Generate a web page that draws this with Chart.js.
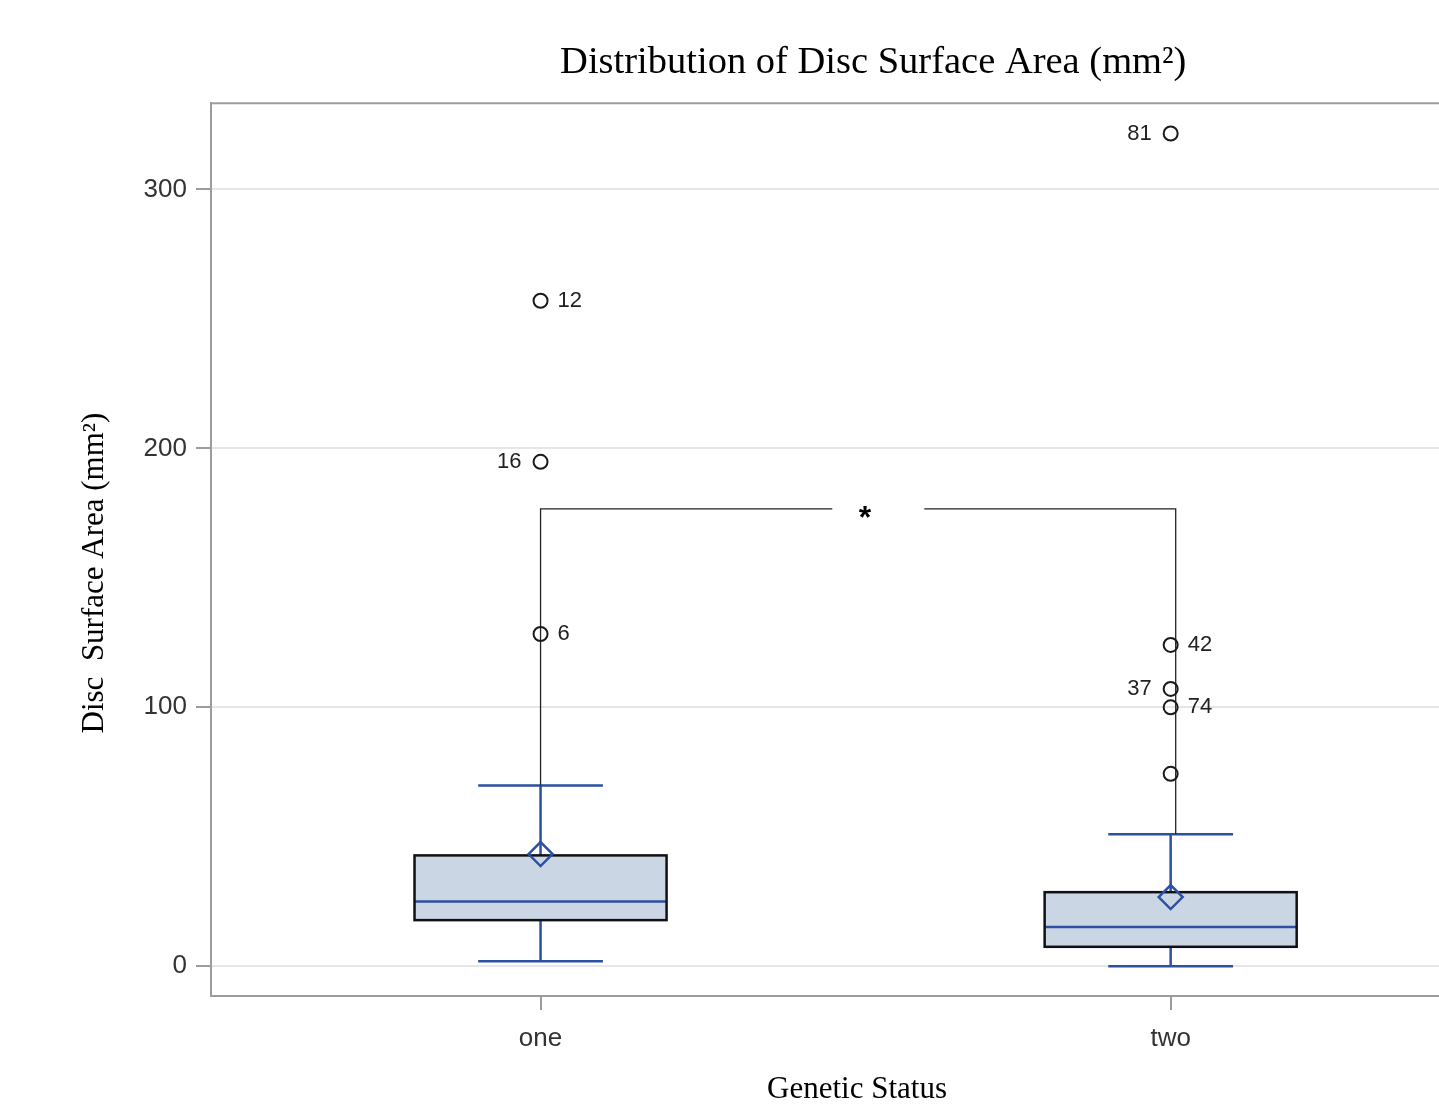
<!DOCTYPE html>
<html>
<head>
<title>Distribution of Disc Surface Area</title>
<script src="https://cdn.jsdelivr.net/npm/chart.js"></script>
<style>
    html, body { margin: 0; padding: 0; background: #fff; overflow: hidden; }
    .wrap { width: 1439px; height: 1116px; overflow: hidden; }
</style>
</head>
<body>
<div class="wrap"><canvas id="boxChart" width="1550" height="1116"></canvas></div>
<script>
// box plot summary per group
const groups = ['one', 'two'];
const whiskerLow = [1.9, 0];
const q1 = [17.8, 7.5];
const median = [25.0, 15.1];
const q3 = [42.8, 28.6];
const whiskerHigh = [69.8, 51.0];
const means = [43.3, 26.7];

// outliers (group index, value, id label)
const outlierGroup = [0, 0, 0, 1, 1, 1, 1, 1];
const outlierValues = [128.3, 194.8, 257.0, 74.3, 100.0, 107.1, 124.1, 321.6];
const outlierIds = ['6', '16', '12', '', '74', '37', '42', '81'];
const leftLabelled = ['16', '37', '81'];

const yTicks = [0, 100, 200, 300];
const bracketValue = 176.6;

const blue = '#2c50a2';
const sans = '"Liberation Sans", Arial, sans-serif';
const serif = '"Liberation Serif", "Times New Roman", serif';

const boxPlot = {
    id: 'boxPlot',
    beforeDatasetsDraw(chart) {
        const { ctx, chartArea, scales: { x, y } } = chart;
        ctx.save();

        // top frame line (right edge falls off the page)
        ctx.strokeStyle = '#9c9c9c';
        ctx.lineWidth = 2;
        ctx.beginPath();
        ctx.moveTo(chartArea.left, chartArea.top);
        ctx.lineTo(chartArea.right, chartArea.top);
        ctx.stroke();

        groups.forEach((g, i) => {
            const cx = x.getPixelForValue(i);
            const half = x.getPixelForValue(i + 0.2) - cx;
            const cap = x.getPixelForValue(i + 0.099) - cx;
            const yLo = y.getPixelForValue(whiskerLow[i]);
            const yQ1 = y.getPixelForValue(q1[i]);
            const yMed = y.getPixelForValue(median[i]);
            const yQ3 = y.getPixelForValue(q3[i]);
            const yHi = y.getPixelForValue(whiskerHigh[i]);

            ctx.strokeStyle = blue;
            ctx.lineWidth = 2.5;
            ctx.beginPath();
            ctx.moveTo(cx, yQ3); ctx.lineTo(cx, yHi);
            ctx.moveTo(cx, yQ1); ctx.lineTo(cx, yLo);
            ctx.moveTo(cx - cap, yHi); ctx.lineTo(cx + cap, yHi);
            ctx.moveTo(cx - cap, yLo); ctx.lineTo(cx + cap, yLo);
            ctx.stroke();

            ctx.fillStyle = '#cbd6e5';
            ctx.fillRect(cx - half, yQ3, half * 2, yQ1 - yQ3);

            ctx.beginPath();
            ctx.moveTo(cx - half, yMed); ctx.lineTo(cx + half, yMed);
            ctx.stroke();

            ctx.strokeStyle = '#111';
            ctx.lineWidth = 2.5;
            ctx.strokeRect(cx - half, yQ3, half * 2, yQ1 - yQ3);
        });

        // significance bracket
        const bx1 = x.getPixelForValue(0);
        const bx2 = x.getPixelForValue(1.008);
        const by = y.getPixelForValue(bracketValue);
        const gapL = x.getPixelForValue(0.463);
        const gapR = x.getPixelForValue(0.609);
        ctx.strokeStyle = '#222';
        ctx.lineWidth = 1.3;
        ctx.beginPath();
        ctx.moveTo(bx1, y.getPixelForValue(whiskerHigh[0]));
        ctx.lineTo(bx1, by);
        ctx.lineTo(gapL, by);
        ctx.moveTo(gapR, by);
        ctx.lineTo(bx2, by);
        ctx.lineTo(bx2, y.getPixelForValue(whiskerHigh[1]));
        ctx.stroke();

        ctx.fillStyle = '#000';
        ctx.font = 'bold 32px ' + sans;
        ctx.textAlign = 'center';
        ctx.textBaseline = 'middle';
        ctx.fillText('*', x.getPixelForValue(0.515), by + 10);
        ctx.restore();
    },
    afterDatasetsDraw(chart) {
        const { ctx, scales: { x, y } } = chart;
        ctx.save();
        ctx.fillStyle = '#222';
        ctx.font = '22px ' + sans;
        ctx.textBaseline = 'middle';
        outlierValues.forEach((v, i) => {
            const id = outlierIds[i];
            if (!id) return;
            const px = x.getPixelForValue(outlierGroup[i]);
            const py = y.getPixelForValue(v);
            if (leftLabelled.includes(id)) {
                ctx.textAlign = 'right';
                ctx.fillText(id, px - 19, py);
            } else {
                ctx.textAlign = 'left';
                ctx.fillText(id, px + 17, py);
            }
        });
        ctx.restore();
    },
    afterDraw(chart) {
        // axis titles, placed as in the original figure
        const { ctx } = chart;
        ctx.save();
        ctx.fillStyle = '#000';
        ctx.font = '31px ' + serif;
        ctx.textAlign = 'center';
        ctx.textBaseline = 'middle';
        ctx.fillText('Genetic Status', 857, 1090);
        ctx.translate(95, 573);
        ctx.rotate(-Math.PI / 2);
        ctx.fillText('Disc  Surface Area (mm²)', 0, 0);
        ctx.restore();
    }
};

new Chart(document.getElementById('boxChart'), {
    type: 'scatter',
    data: {
        datasets: [
            {
                label: 'Mean',
                data: means.map((m, i) => ({ x: i, y: m })),
                pointStyle: 'rectRot',
                pointRadius: 12,
                borderColor: blue,
                backgroundColor: 'rgba(0,0,0,0)',
                borderWidth: 2.5
            },
            {
                label: 'Outliers',
                data: outlierValues.map((v, i) => ({ x: outlierGroup[i], y: v })),
                pointStyle: 'circle',
                pointRadius: 7,
                borderColor: '#1a1a1a',
                backgroundColor: 'rgba(0,0,0,0)',
                borderWidth: 2
            }
        ]
    },
    options: {
        responsive: false,
        animation: false,
        layout: { padding: { left: 0, right: 2, top: 0, bottom: 0 } },
        plugins: {
            legend: { display: false },
            tooltip: { enabled: false },
            title: {
                display: true,
                fullSize: false,
                text: 'Distribution of Disc Surface Area (mm²)',
                color: '#000',
                font: { family: serif, size: 38.5, weight: 'normal' },
                padding: { top: 40, bottom: 17 }
            }
        },
        scales: {
            x: {
                type: 'linear',
                min: -0.523,
                max: 1.579,
                afterFit: s => { s.height = 120; },
                afterBuildTicks: s => { s.ticks = groups.map((g, i) => ({ value: i })); },
                ticks: {
                    callback: v => groups[v] ?? '',
                    color: '#333',
                    font: { family: sans, size: 26 },
                    padding: 13
                },
                grid: { drawOnChartArea: false, tickLength: 14, tickColor: '#9c9c9c', lineWidth: 2 },
                border: { color: '#9c9c9c', width: 2 }
            },
            y: {
                min: -11.5,
                max: 333.3,
                afterFit: s => { s.width = 211; },
                afterBuildTicks: s => { s.ticks = yTicks.map(v => ({ value: v })); },
                ticks: {
                    color: '#333',
                    font: { family: sans, size: 26 },
                    padding: 9
                },
                grid: { color: '#e6e6e6', lineWidth: 2, tickLength: 15, tickColor: '#9c9c9c' },
                border: { color: '#9c9c9c', width: 2 }
            }
        }
    },
    plugins: [boxPlot]
});
</script>
</body>
</html>
